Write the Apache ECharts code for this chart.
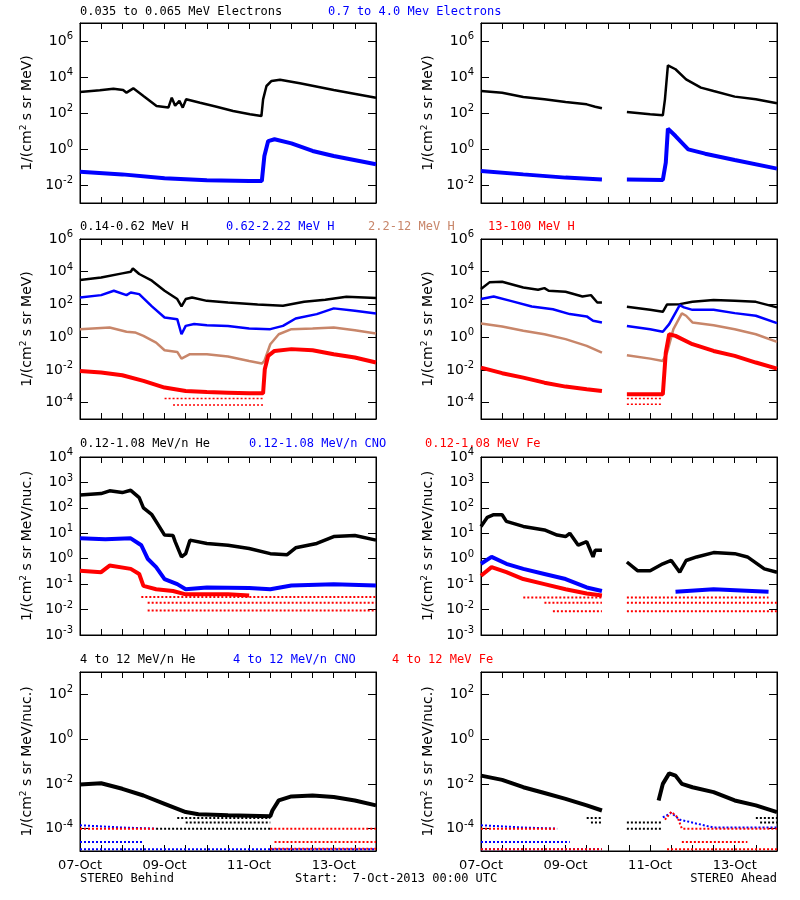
<!DOCTYPE html>
<html><head><meta charset="utf-8">
<script src="https://cdn.jsdelivr.net/npm/echarts@6/dist/echarts.min.js"></script>
<style>html,body{margin:0;padding:0;background:#fff}#c{width:800px;height:900px}</style>
</head><body><div id="c"></div>
<script>
// time in days since 07-Oct-2013 00:00 UTC; values are log10 of intensity
const xTickLabels = ['07-Oct','09-Oct','11-Oct','13-Oct'];
const G = '-';
// Row 1: electrons
const eLoB = [[0,3.17],[0.47,3.26],[0.79,3.35],[1.02,3.28],[1.1,3.13],[1.26,3.37],[1.5,2.94],[1.81,2.39],[2.09,2.3],[2.17,2.85],[2.25,2.4],[2.35,2.67],[2.43,2.3],[2.51,2.76],[2.84,2.57],[3.23,2.35],[3.62,2.11],[4.02,1.93],[4.29,1.83],[4.33,2.76],[4.41,3.5],[4.53,3.78],[4.73,3.85],[5.2,3.65],[6.0,3.28],[7,2.85]];
const eHiB = [[0,-1.26],[1,-1.41],[2,-1.63],[3,-1.74],[4,-1.78],[4.3,-1.78],[4.36,-0.39],[4.45,0.44],[4.6,0.54],[5,0.31],[5.5,-0.11],[6,-0.39],[7,-0.85]];
const eLoA = [[0,3.22],[0.5,3.13],[1,2.89],[1.5,2.76],[2,2.61],[2.5,2.48],[2.7,2.35],[2.86,2.26],[3.1,G],[3.45,2.06],[4,1.93],[4.3,1.87],[4.35,2.76],[4.42,4.65],[4.6,4.43],[4.85,3.87],[5.2,3.41],[5.5,3.22],[6,2.91],[6.5,2.76],[7,2.54]];
const eHiA = [[0,-1.22],[1,-1.41],[2,-1.59],[2.86,-1.69],[3.1,G],[3.45,-1.69],[4.3,-1.72],[4.37,-0.76],[4.42,1.13],[4.6,0.72],[4.9,-0.02],[5.3,-0.26],[6,-0.61],[7,-1.09]];
// Row 2: protons
const h1B = [[0,3.49],[0.5,3.65],[1,3.9],[1.2,4.0],[1.25,4.2],[1.4,3.86],[1.7,3.45],[2,2.84],[2.3,2.33],[2.4,1.88],[2.5,2.33],[2.65,2.43],[3,2.22],[3.5,2.12],[4.2,2.0],[4.8,1.92],[5.3,2.16],[5.8,2.29],[6.3,2.47],[7,2.39]];
const h2B = [[0,2.43],[0.5,2.57],[0.8,2.84],[1.1,2.57],[1.2,2.73],[1.4,2.63],[1.7,1.88],[2,1.2],[2.3,1.1],[2.4,0.18],[2.5,0.69],[2.7,0.8],[3,0.73],[3.5,0.69],[4,0.53],[4.5,0.49],[4.8,0.69],[5.1,1.14],[5.6,1.41],[6,1.76],[6.5,1.61],[7,1.45]];
const h3B = [[0,0.49],[0.7,0.59],[1.1,0.33],[1.3,0.29],[1.5,0.08],[1.8,-0.33],[2,-0.8],[2.3,-0.9],[2.4,-1.31],[2.6,-1.04],[3,-1.04],[3.5,-1.18],[4,-1.45],[4.3,-1.61],[4.36,-1.45],[4.5,-0.43],[4.7,0.18],[5,0.49],[5.5,0.53],[6,0.59],[6.5,0.43],[7,0.22]];
const h4B = [[0,-2.06],[0.5,-2.16],[1,-2.33],[1.5,-2.67],[2,-3.08],[2.5,-3.29],[3,-3.35],[3.5,-3.39],[4,-3.43],[4.33,-3.43],[4.37,-1.96],[4.45,-1.14],[4.6,-0.84],[5,-0.73],[5.5,-0.8],[6,-1.04],[6.5,-1.24],[7,-1.55]];
const h1A = [[0,2.94],[0.2,3.35],[0.5,3.39],[1,3.04],[1.35,2.9],[1.5,3.0],[1.6,2.84],[2,2.78],[2.4,2.49],[2.6,2.57],[2.75,2.12],[2.86,2.12],[3.1,G],[3.45,1.86],[4,1.67],[4.3,1.55],[4.4,2.0],[4.7,2.02],[5,2.16],[5.5,2.27],[6,2.22],[6.5,2.16],[7,1.82]];
const h2A = [[0,2.33],[0.3,2.49],[0.7,2.22],[1.2,1.88],[1.7,1.71],[2.1,1.41],[2.5,1.27],[2.65,1.0],[2.86,0.9],[3.1,G],[3.45,0.69],[4,0.49],[4.3,0.33],[4.45,0.8],[4.7,1.96],[4.8,1.82],[5,1.67],[5.5,1.67],[6,1.47],[6.5,1.31],[7,0.86]];
const h3A = [[0,0.84],[0.5,0.65],[1,0.39],[1.5,0.18],[2,-0.12],[2.5,-0.53],[2.86,-0.94],[3.1,G],[3.45,-1.1],[4,-1.31],[4.3,-1.45],[4.4,-0.94],[4.55,0.49],[4.75,1.45],[4.85,1.31],[5,0.9],[5.5,0.73],[6,0.49],[6.5,0.18],[7,-0.29]];
const h4A = [[0,-1.86],[0.5,-2.2],[1,-2.47],[1.5,-2.78],[2,-3.02],[2.5,-3.18],[2.86,-3.29],[3.1,G],[3.45,-3.49],[4.3,-3.49],[4.37,-0.94],[4.45,0.18],[4.6,0.08],[5,-0.43],[5.5,-0.84],[6,-1.14],[6.5,-1.55],[7,-1.92]];
const h4Blev = [[2,-3.75],[4.33,-3.75],[4.34,G],[2.2,-4.14],[4.33,-4.14]];
const h4Alev = [[3.45,-3.75],[4.3,-3.75],[4.31,G],[3.45,-4.1],[4.3,-4.1]];
// Row 3: 0.12-1.08 MeV/n heavy ions
const heB = [[0,2.51],[0.5,2.56],[0.7,2.67],[1,2.6],[1.2,2.69],[1.4,2.4],[1.5,2.0],[1.7,1.73],[1.85,1.33],[2,0.93],[2.2,0.91],[2.25,0.67],[2.4,0.07],[2.5,0.2],[2.6,0.73],[3,0.6],[3.5,0.53],[4,0.4],[4.5,0.2],[4.9,0.16],[5.1,0.43],[5.6,0.6],[6,0.87],[6.5,0.91],[7,0.73]];
const cnoB = [[0,0.8],[0.6,0.77],[1.2,0.8],[1.45,0.53],[1.6,0],[1.8,-0.33],[2,-0.8],[2.3,-1.0],[2.5,-1.2],[3,-1.13],[4,-1.15],[4.5,-1.2],[5,-1.05],[6,-1.0],[7,-1.05]];
const feB = [[0,-0.47],[0.5,-0.53],[0.7,-0.27],[1.2,-0.4],[1.4,-0.6],[1.5,-1.07],[1.8,-1.2],[2.2,-1.27],[2.5,-1.4],[3.5,-1.4],[4,-1.45]];
const heA = [[0,1.27],[0.15,1.63],[0.3,1.73],[0.5,1.73],[0.6,1.47],[1,1.27],[1.5,1.13],[1.8,0.93],[2,0.87],[2.1,1.0],[2.3,0.53],[2.5,0.67],[2.65,0.07],[2.7,0.33],[2.86,0.33],[3.1,G],[3.45,-0.13],[3.7,-0.47],[4,-0.47],[4.3,-0.2],[4.5,-0.07],[4.7,-0.53],[4.85,-0.07],[5.1,0.07],[5.5,0.24],[6,0.2],[6.3,0.07],[6.7,-0.4],[7,-0.53]];
const cnoA = [[0,-0.2],[0.25,0.07],[0.6,-0.2],[1,-0.4],[1.5,-0.6],[2,-0.8],[2.5,-1.13],[2.86,-1.27],[3.1,G],[4.6,-1.3],[5.5,-1.2],[6.8,-1.3]];
const feA = [[0,-0.67],[0.25,-0.33],[0.6,-0.53],[1,-0.8],[1.5,-1.0],[2,-1.2],[2.5,-1.37],[2.86,-1.45]];
const lev3B = [[1.45,-1.51],[7,-1.51],[7,G],[1.6,-1.73],[7,-1.73],[7,G],[1.6,-2.04],[7,-2.04]];
const lev3A = [[1.0,-1.53],[2.86,-1.53],[3.1,G],[3.45,-1.53],[6.8,-1.53],[6.9,G],[1.5,-1.73],[2.86,-1.73],[3.1,G],[3.45,-1.73],[7,-1.73],[7,G],[1.7,-2.07],[2.86,-2.07],[3.1,G],[3.45,-2.07],[7,-2.07]];
// Row 4: 4-12 MeV/n heavy ions
const he4B = [[0,-2.03],[0.5,-1.97],[1,-2.22],[1.5,-2.52],[2,-2.89],[2.5,-3.26],[2.8,-3.36],[3.5,-3.4],[4.5,-3.45],[4.55,-3.19],[4.7,-2.74],[5,-2.56],[5.5,-2.52],[6,-2.59],[6.5,-2.74],[7,-2.96]];
const he4A = [[0,-1.63],[0.5,-1.82],[1,-2.15],[1.5,-2.41],[2,-2.67],[2.5,-2.96],[2.86,-3.19],[3.1,G],[4.2,-2.74],[4.3,-2.0],[4.45,-1.53],[4.6,-1.63],[4.75,-2.0],[5,-2.15],[5.5,-2.37],[6,-2.74],[6.5,-2.96],[7,-3.26]];
const blk4B = [[2.3,-3.53],[4.5,-3.53],[4.5,G],[2.5,-3.73],[4.5,-3.73],[4.5,G],[1.8,-4.0],[4.5,-4.0]];
const blk4A = [[2.5,-3.53],[2.86,-3.53],[3.1,G],[3.45,-3.73],[4.3,-3.73],[4.31,G],[2.6,-3.73],[2.86,-3.73],[3.1,G],[3.45,-4.0],[4.3,-4.0],[4.31,G],[6.5,-3.53],[7,-3.53],[7,G],[6.6,-3.73],[7,-3.73]];
const cno4B = [[0,-3.85],[1.0,-3.95],[1.8,-4.0],[1.81,G],[0,-4.6],[1.5,-4.6],[1.51,G],[0,-4.92],[7,-4.92]];
const fe4B = [[0,-4.0],[1.8,-4.0],[1.81,G],[4.5,-4.0],[7,-4.0],[7,G],[4.6,-4.6],[7,-4.6],[7,G],[4.5,-4.9],[7,-4.9]];
const cno4A = [[0,-3.85],[1.0,-3.95],[1.8,-4.0],[1.81,G],[0,-4.6],[2.1,-4.6],[2.11,G],[0,-4.92],[2.86,-4.92],[3.1,G],[4.3,-3.5],[4.5,-3.3],[4.7,-3.6],[5.5,-3.95],[7,-3.95]];
const fe4A = [[0,-4.0],[1.8,-4.0],[1.81,G],[0,-4.92],[2.86,-4.92],[3.1,G],[4.35,-3.6],[4.5,-3.25],[4.65,-3.5],[4.75,-4.0],[7,-4.0],[7,G],[4.75,-4.6],[6.3,-4.6],[6.31,G],[4.4,-4.92],[7,-4.92]];

const BLK='#000000', BLU='#0000ff', RED='#ff0000', BRN='#c8866a';
const FONT='DejaVu Sans';
const rows=[{top:23,bot:203,min:-3,max:7,ticks:[-2,0,2,4,6],name:'1/(cm{s|2} s sr MeV)'},
            {top:239,bot:419,min:-5,max:6,ticks:[-4,-2,0,2,4,6],name:'1/(cm{s|2} s sr MeV)'},
            {top:457,bot:635,min:-3,max:4,ticks:[-3,-2,-1,0,1,2,3,4],name:'1/(cm{s|2} s sr MeV/nuc.)'},
            {top:672,bot:851,min:-5,max:3,ticks:[-4,-2,0,2],name:'1/(cm{s|2} s sr MeV/nuc.)'}];
const grids=[],xAxis=[],yAxis=[],series=[];
const xt=[];for(let i=0;i<=14;i++)xt.push(i*0.5);
rows.forEach((r,ri)=>{[80,481].forEach((l,ci)=>{
  const g=grids.length;
  grids.push({left:l,width:296,top:r.top,height:r.bot-r.top,show:true,borderColor:'#000',borderWidth:1});
  const bottomRow=ri===3;
  const ax={type:'value',min:0,max:7,gridIndex:g,axisLine:{show:true,onZero:false,lineStyle:{color:'#000'}},splitLine:{show:false},
    axisTick:{show:true,inside:true,length:6,customValues:xt,lineStyle:{color:'#000'}}};
  xAxis.push(Object.assign({},ax,{position:'bottom',axisLabel:{show:bottomRow,customValues:[0,2,4,6],margin:8,fontFamily:FONT,fontSize:13,color:'#000',formatter:v=>xTickLabels[Math.round(v/2)]}}));
  xAxis.push(Object.assign({},ax,{position:'top',axisLabel:{show:false}}));
  const ay={type:'value',min:r.min,max:r.max,gridIndex:g,axisLine:{show:true,onZero:false,lineStyle:{color:'#000'}},splitLine:{show:false},
    axisTick:{show:true,inside:true,length:8,customValues:r.ticks,lineStyle:{color:'#000'}}};
  yAxis.push(Object.assign({},ay,{position:'left',name:r.name,nameLocation:'middle',nameGap:44,
    nameTextStyle:{fontFamily:FONT,fontSize:14,color:'#000',rich:{s:{fontSize:9,fontFamily:FONT,padding:[0,0,8,0]}}},
    axisLabel:{customValues:r.ticks,margin:7,color:'#000',formatter:v=>'{b|10}{s|'+v+'}',
      rich:{b:{fontSize:14,fontFamily:FONT,color:'#000'},s:{fontSize:10,fontFamily:FONT,color:'#000',padding:[0,0,9,0]}}}}));
  yAxis.push(Object.assign({},ay,{position:'right',axisLabel:{show:false}}));
});});
function add(g,data,color,w,dot){
  series.push({type:'line',xAxisIndex:2*g,yAxisIndex:2*g,data:data,showSymbol:false,symbol:'none',connectNulls:false,silent:true,
    lineStyle:{color:color,width:w,type:dot?[2,2]:'solid'},animation:false});
}
add(0,eLoB,BLK,2.5);add(0,eHiB,BLU,4);
add(1,eLoA,BLK,2.5);add(1,eHiA,BLU,4);
add(2,h1B,BLK,2.5);add(2,h2B,BLU,2.5);add(2,h3B,BRN,2.5);add(2,h4B,RED,4);add(2,h4Blev,RED,1.5,true);
add(3,h1A,BLK,2.5);add(3,h2A,BLU,2.5);add(3,h3A,BRN,2.5);add(3,h4A,RED,4);add(3,h4Alev,RED,1.5,true);
add(4,lev3B,RED,2,true);add(4,cnoB,BLU,4);add(4,feB,RED,4);add(4,heB,BLK,3.5);
add(5,lev3A,RED,2,true);add(5,cnoA,BLU,4);add(5,feA,RED,4);add(5,heA,BLK,3.5);
add(6,cno4B,BLU,2,true);add(6,fe4B,RED,2,true);add(6,blk4B,BLK,2,true);add(6,he4B,BLK,4);
add(7,cno4A,BLU,2,true);add(7,fe4A,RED,2,true);add(7,blk4A,BLK,2,true);add(7,he4A,BLK,4);

const T=(x,y,t,c,align)=>({type:'text',left:align==='right'?undefined:x,right:align==='right'?800-x:undefined,top:y,
  style:{text:t,fill:c,font:'12px "DejaVu Sans Mono"'}});
const graphic=[
  T(80,6,'0.035 to 0.065 MeV Electrons',BLK),T(328,6,'0.7 to 4.0 Mev Electrons',BLU),
  T(80,221,'0.14-0.62 MeV H',BLK),T(226,221,'0.62-2.22 MeV H',BLU),T(368,221,'2.2-12 MeV H',BRN),T(488,221,'13-100 MeV H',RED),
  T(80,438,'0.12-1.08 MeV/n He',BLK),T(249,438,'0.12-1.08 MeV/n CNO',BLU),T(425,438,'0.12-1.08 MeV Fe',RED),
  T(80,654,'4 to 12 MeV/n He',BLK),T(233,654,'4 to 12 MeV/n CNO',BLU),T(392,654,'4 to 12 MeV Fe',RED),
  T(80,873,'STEREO Behind',BLK),T(295,873,'Start:  7-Oct-2013 00:00 UTC',BLK),T(777,873,'STEREO Ahead',BLK,'right')
];
const chart=echarts.init(document.getElementById('c'),null,{renderer:'canvas'});
chart.setOption({animation:false,backgroundColor:'#fff',grid:grids,xAxis:xAxis,yAxis:yAxis,series:series,graphic:graphic});
</script></body></html>
